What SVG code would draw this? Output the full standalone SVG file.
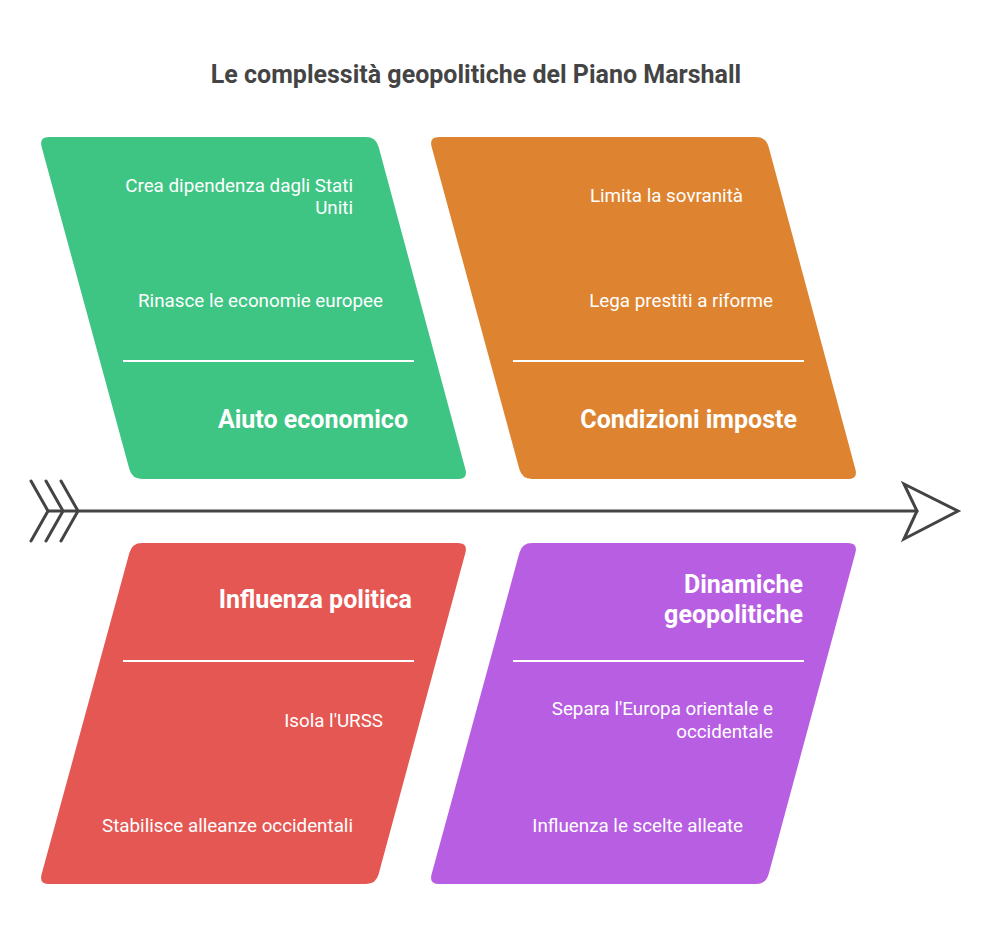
<svg xmlns="http://www.w3.org/2000/svg" width="990" height="948" viewBox="0 0 990 948">
<style>
text{font-family:Roboto,"Liberation Sans",sans-serif;fill:#fff}
.t{font-size:18.8px;text-anchor:end}
.h{font-size:25px;font-weight:bold;text-anchor:end}
.title{font-size:25px;font-weight:bold;fill:#444;text-anchor:middle}
.div{stroke:#fff;stroke-width:2}
.ln{stroke:#444;stroke-width:3;fill:none;stroke-linecap:round;stroke-linejoin:miter}
</style>
<rect width="990" height="948" fill="#fff"/>
<text class="title" x="476" y="83">Le complessità geopolitiche del Piano Marshall</text>
<g id="connectors">
<line class="ln" x1="48" y1="511" x2="917" y2="511"/>
<polyline class="ln" points="31,481 48,511 31,541"/>
<polyline class="ln" points="46,481 63,511 46,541"/>
<polyline class="ln" points="61,481 78,511 61,541"/>
<polygon class="ln" points="904,484 958,511 904,539 917,511"/>
</g>
<g id="aiuto-economico">
<path fill="#3ec584" d="M 49,137 L 366,137 Q 376,137 378.6,146.7 L 465.4,469.3 Q 468,479 458,479 L 142,479 Q 132,479 129.4,469.3 L 41.6,146.7 Q 39,137 49,137 Z"/>
<text class="t" x="353" y="192">Crea dipendenza dagli Stati</text>
<text class="t" x="353" y="214">Uniti</text>
<text class="t" x="383" y="307">Rinasce le economie europee</text>
<line class="div" x1="123" y1="361" x2="414" y2="361"/>
<text class="h" x="408" y="428">Aiuto economico</text>
</g>
<g id="condizioni-imposte">
<path fill="#de8431" d="M 439,137 L 756,137 Q 766,137 768.6,146.7 L 855.4,469.3 Q 858,479 848,479 L 532,479 Q 522,479 519.4,469.3 L 431.6,146.7 Q 429,137 439,137 Z"/>
<text class="t" x="743" y="202">Limita la sovranità</text>
<text class="t" x="773" y="307">Lega prestiti a riforme</text>
<line class="div" x1="513" y1="361" x2="804" y2="361"/>
<text class="h" x="797" y="428">Condizioni imposte</text>
</g>
<g id="influenza-politica">
<path fill="#e55753" d="M 142,543 L 458,543 Q 468,543 465.4,552.7 L 378.6,874.3 Q 376,884 366,884 L 49,884 Q 39,884 41.6,874.3 L 129.4,552.7 Q 132,543 142,543 Z"/>
<text class="h" x="412" y="608">Influenza politica</text>
<line class="div" x1="123" y1="661" x2="414" y2="661"/>
<text class="t" x="383" y="727">Isola l'URSS</text>
<text class="t" x="353" y="832">Stabilisce alleanze occidentali</text>
</g>
<g id="dinamiche-geopolitiche">
<path fill="#b85ee3" d="M 532,543 L 848,543 Q 858,543 855.4,552.7 L 768.6,874.3 Q 766,884 756,884 L 439,884 Q 429,884 431.6,874.3 L 519.4,552.7 Q 522,543 532,543 Z"/>
<text class="h" x="803" y="593">Dinamiche</text>
<text class="h" x="803" y="623">geopolitiche</text>
<line class="div" x1="513" y1="661" x2="804" y2="661"/>
<text class="t" x="773" y="715">Separa l'Europa orientale e</text>
<text class="t" x="773" y="738">occidentale</text>
<text class="t" x="743" y="832">Influenza le scelte alleate</text>
</g>
</svg>
